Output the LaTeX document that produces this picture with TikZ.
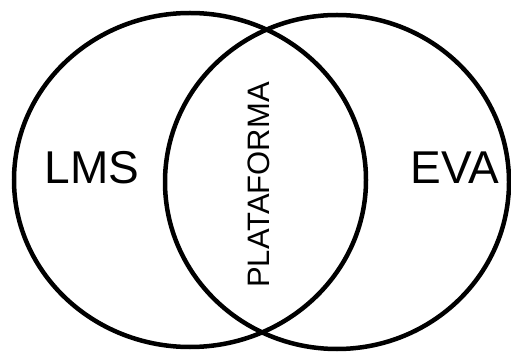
\documentclass[tikz,border=0pt]{standalone}
\usepackage{fontspec}
\setmainfont{Liberation Sans}
\begin{document}
\begin{tikzpicture}[x=1pt,y=-1pt,
  set/.style={draw=black,line width=4.5pt},
  bigtxt/.style={font=\fontsize{46}{50}\selectfont,inner sep=0pt},
  midtxt/.style={font=\fontsize{31}{34}\selectfont,inner sep=0pt,rotate=90}]
  \useasboundingbox (0,0) rectangle (511,352);
  % the two overlapping sets
  \draw[set] (190,180) ellipse [x radius=176, y radius=167];
  \draw[set] (337,182) ellipse [x radius=172, y radius=167];
  % labels
  \node[bigtxt] (lms) at (92,168) {LMS};
  \node[bigtxt] (eva) at (455,168) {EVA};
  \node[midtxt] (plat) at (259,185) {PLATAFORMA};
\end{tikzpicture}
\end{document}
